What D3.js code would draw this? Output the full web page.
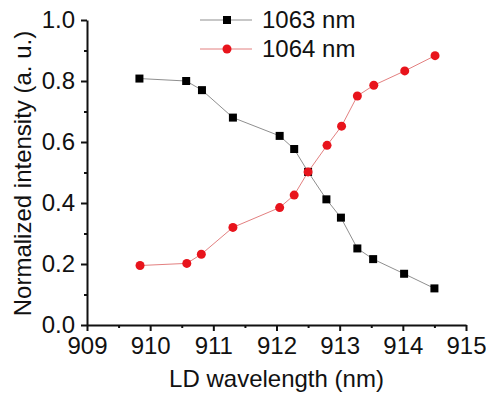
<!DOCTYPE html>
<html>
<head>
<meta charset="utf-8">
<script src="https://cdn.jsdelivr.net/npm/d3@7"></script>
<style>
  html, body { margin: 0; padding: 0; background: #fff; overflow: hidden; }
  svg { display: block; }
  text { font-family: Arial, "Liberation Sans", sans-serif; fill: #111; }
</style>
</head>
<body>
<svg id="chart" width="486" height="396"></svg>
<script>
// wavelength of the LD (nm)
const wl1063 = [909.83, 910.57, 910.82, 911.31, 912.05, 912.28, 912.5, 912.79, 913.02, 913.28, 913.53, 914.02, 914.5];
const int1063 = [0.808, 0.800, 0.770, 0.680, 0.620, 0.577, 0.502, 0.412, 0.352, 0.251, 0.216, 0.168, 0.120];
const wl1064 = [909.84, 910.58, 910.81, 911.31, 912.05, 912.28, 912.5, 912.8, 913.03, 913.28, 913.54, 914.03, 914.51];
const int1064 = [0.195, 0.202, 0.232, 0.320, 0.385, 0.426, 0.502, 0.589, 0.652, 0.751, 0.786, 0.833, 0.883];
const xTicks = [909, 910, 911, 912, 913, 914, 915];
const yTicks = [0.0, 0.2, 0.4, 0.6, 0.8, 1.0];
const seriesNames = ['1063 nm', '1064 nm'];

const svg = d3.select('#chart');
const margin = { top: 20, right: 20, bottom: 71, left: 87 };
const innerWidth = 466 - margin.left;
const innerHeight = 325 - margin.top;
const fontSize = 24;

const xScale = d3.scaleLinear().domain([909, 915]).range([0, innerWidth]);
const yScale = d3.scaleLinear().domain([0, 1]).range([innerHeight, 0]);

const g = svg.append('g')
    .attr('transform', `translate(${margin.left}, ${margin.top})`);

// minor ticks (no labels)
g.append('g')
    .attr('transform', `translate(0, ${innerHeight})`)
    .call(d3.axisBottom(xScale).tickValues(d3.range(909.5, 915, 1)).tickSize(3).tickFormat(''))
    .call(a => a.select('.domain').remove())
    .call(a => a.selectAll('text').remove())
    .call(a => a.selectAll('line').attr('stroke-width', 2).attr('stroke', '#111'));
g.append('g')
    .call(d3.axisLeft(yScale).tickValues(d3.range(0.1, 1, 0.2)).tickSize(3).tickFormat(''))
    .call(a => a.select('.domain').remove())
    .call(a => a.selectAll('text').remove())
    .call(a => a.selectAll('line').attr('stroke-width', 2).attr('stroke', '#111'));

const xAxis = g.append('g')
    .attr('transform', `translate(0, ${innerHeight})`)
    .call(d3.axisBottom(xScale).tickValues(xTicks).tickSize(6).tickSizeOuter(0).tickPadding(6).tickFormat(d3.format('d')));
const yAxis = g.append('g')
    .call(d3.axisLeft(yScale).tickValues(yTicks).tickSize(6).tickSizeOuter(0).tickPadding(6).tickFormat(d3.format('.1f')));

[xAxis, yAxis].forEach(a => {
    a.select('.domain').attr('stroke-width', 2).attr('stroke', '#111');
    a.selectAll('line').attr('stroke-width', 2).attr('stroke', '#111');
    a.selectAll('text').attr('font-size', fontSize).attr('fill', '#111')
        .style('font-family', 'Arial, "Liberation Sans", sans-serif');
});

// axis titles
g.append('text')
    .text('LD wavelength (nm)')
    .attr('font-size', fontSize)
    .attr('text-anchor', 'middle')
    .attr('x', innerWidth / 2)
    .attr('y', innerHeight + 62);
g.append('text')
    .text('Normalized intensity (a. u.)')
    .attr('font-size', fontSize)
    .attr('text-anchor', 'middle')
    .attr('transform', `translate(-56, ${innerHeight / 2 + 1}) rotate(-90)`);

const lineGen = d3.line()
    .x(d => xScale(d[0]))
    .y(d => yScale(d[1]));

const black = d3.zip(wl1063, int1063);
const red = d3.zip(wl1064, int1064);

g.append('path')
    .attr('d', lineGen(black))
    .attr('fill', 'none')
    .attr('stroke', '#8f8f8f')
    .attr('stroke-width', 1);
g.append('path')
    .attr('d', lineGen(red))
    .attr('fill', 'none')
    .attr('stroke', '#e38080')
    .attr('stroke-width', 1);

g.selectAll('.sq')
    .data(black)
    .enter()
    .append('rect')
    .attr('class', 'sq')
    .attr('x', d => xScale(d[0]) - 4)
    .attr('y', d => yScale(d[1]) - 4)
    .attr('width', 8)
    .attr('height', 8)
    .attr('fill', '#000');

g.selectAll('.dot')
    .data(red)
    .enter()
    .append('circle')
    .attr('class', 'dot')
    .attr('cx', d => xScale(d[0]))
    .attr('cy', d => yScale(d[1]))
    .attr('r', 4.5)
    .attr('fill', '#e8141c');

// legend
const legend = svg.append('g').attr('transform', 'translate(200, 20)');
seriesNames.forEach((name, i) => {
    const row = legend.append('g').attr('transform', `translate(0, ${i * 29})`);
    row.append('line')
        .attr('x1', 0).attr('x2', 52)
        .attr('stroke', i === 0 ? '#8f8f8f' : '#e38080')
        .attr('stroke-width', 1);
    if (i === 0) {
        row.append('rect').attr('x', 23).attr('y', -4).attr('width', 8).attr('height', 8).attr('fill', '#000');
    } else {
        row.append('circle').attr('cx', 27).attr('r', 4.5).attr('fill', '#e8141c');
    }
    row.append('text')
        .text(name)
        .attr('x', 62)
        .attr('dy', '0.35em')
        .attr('font-size', fontSize);
});
</script>
</body>
</html>
